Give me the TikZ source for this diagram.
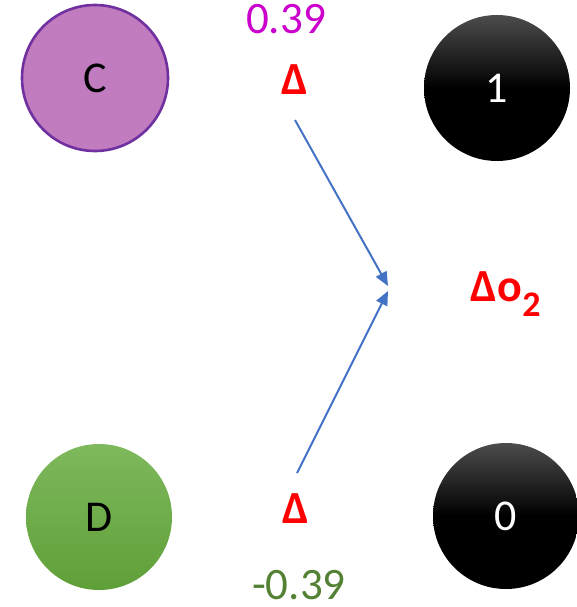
\documentclass[tikz,border=0pt]{standalone}
\usepackage{fontspec}
\setmainfont{Carlito}
\usetikzlibrary{arrows.meta,positioning}
\definecolor{plum}{HTML}{C07CBE}
\definecolor{plumdk}{HTML}{7030A0}
\definecolor{leaflt}{HTML}{7EB95D}
\definecolor{leafdk}{HTML}{5F9F38}
\definecolor{magen}{HTML}{CC00CC}
\definecolor{olive}{HTML}{548235}
\definecolor{arrblue}{HTML}{4472C4}
\definecolor{dred}{HTML}{FF0000}
\tikzset{
  unit/.style={circle,minimum size=146pt,inner sep=0pt,
               font=\fontsize{44}{48}\selectfont},
  cnode/.style={unit,fill=plum,draw=plumdk,line width=2.6pt,text=black},
  dnode/.style={unit,top color=leaflt,bottom color=leafdk,text=black},
  onode/.style={unit,top color=black!70,bottom color=black,
                middle color=black,text=white},
  delta/.style={font=\fontsize{46}{50}\selectfont\bfseries,text=dred},
  val/.style={inner sep=0pt,font=\fontsize{45}{50}\selectfont},
  arr/.style={-{Triangle[length=14pt,width=12pt]},line width=2pt,color=arrblue},
}
\begin{document}
\begin{tikzpicture}[x=1pt,y=-1pt]
  \useasboundingbox (0,0) rectangle (576,607);
  \node[cnode] (c)   at (95,78)   {C};
  \node[dnode] (d)   at (99,517)  {D};
  \node[onode] (one) at (497,88)  {1};
  \node[onode] (zro) at (506,516) {0};

  \node[val,text=magen] (wc) at (286,19)  {0.39};
  \node[val,text=olive] (wd) at (299,585) {-0.39};
  \node[delta] (dc) at (295,80)  {Δ};
  \node[delta] (dd) at (296,509) {Δ};
  \node[delta] (dout) at (506,294) {Δo\textsubscript{\fontsize{36}{40}\selectfont 2}};

  \coordinate (sc) at (295,120);
  \coordinate (sd) at (297,473);
  \coordinate (tc) at (388,286);
  \coordinate (td) at (388,291);
  \draw[arr] (sc) -- (tc);
  \draw[arr] (sd) -- (td);
\end{tikzpicture}
\end{document}
